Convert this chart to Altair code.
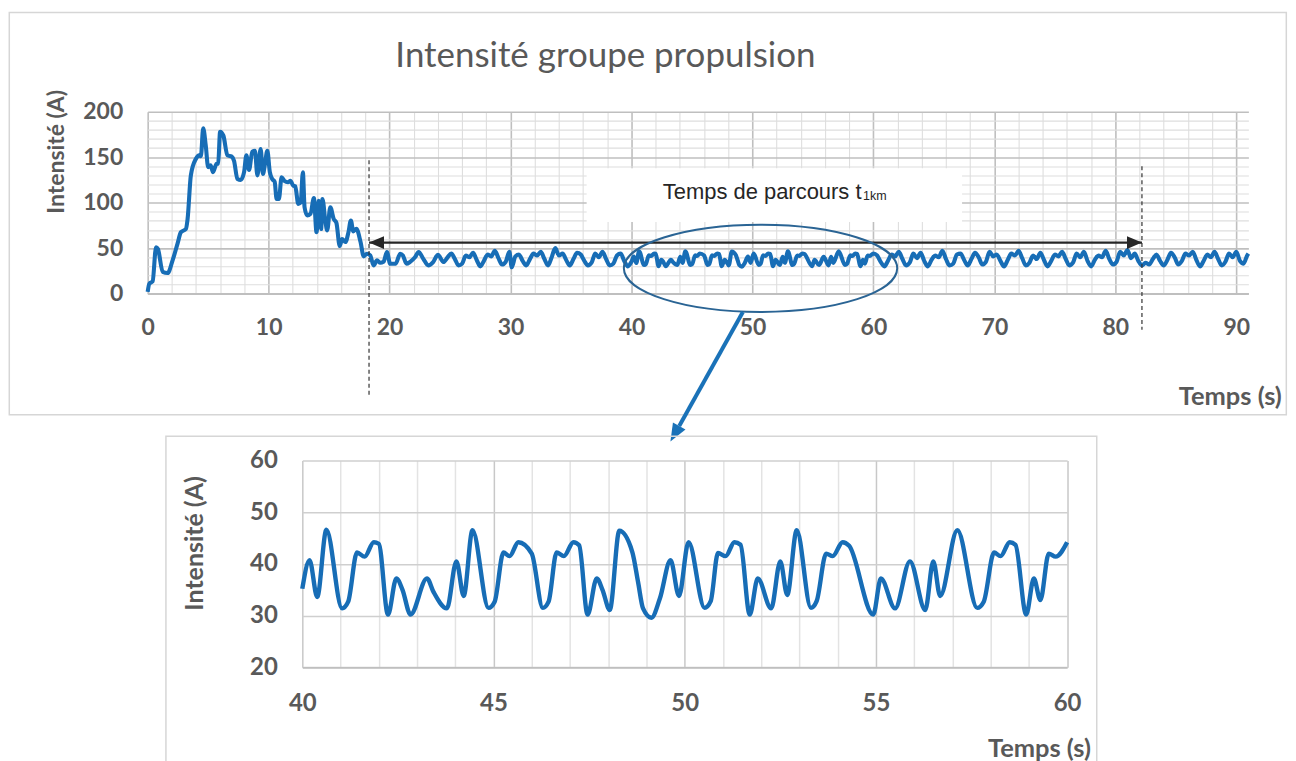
import altair as alt
import pandas as pd

# ---------------- data ----------------
temps = [
    0.0, 0.14, 0.41, 0.69, 0.85, 1.24, 1.65, 2.06, 2.47, 2.75, 3.16, 3.3, 3.57, 3.98, 4.26, 4.4,
    4.59, 4.8, 5.0, 5.2, 5.4, 5.69, 5.83, 5.99, 6.26, 6.59, 6.95, 7.14, 7.42, 7.69, 7.97, 8.16,
    8.38, 8.65, 8.87, 9.07, 9.34, 9.53, 9.7, 9.89, 10.1, 10.3, 10.5, 10.66, 10.85, 11.07, 11.3,
    11.6, 11.8, 12.03, 12.2, 12.45, 12.65, 12.83, 12.97, 13.19, 13.46, 13.74, 13.96, 14.15, 14.34,
    14.45, 14.7, 14.84, 15.1, 15.38, 15.6, 15.88, 16.07, 16.35, 16.6, 16.8, 17.0, 17.25, 17.6,
    17.86, 18.13, 18.4, 18.68, 18.96, 19.23, 19.5, 19.78, 20.05, 20.5, 20.88, 21.1, 21.4, 21.7,
    22.1, 22.4, 22.8, 23.2, 23.6, 24.0, 24.45, 24.8, 25.1, 25.4, 25.7, 26.0, 26.3, 26.6, 26.9,
    27.2, 27.5, 27.8, 28.1, 28.4, 28.7, 29.0, 29.3, 29.6, 29.9, 30.1, 30.4, 30.7, 31.0, 31.3,
    31.6, 31.9, 32.2, 32.5, 32.8, 33.1, 33.4, 33.7, 34.0, 34.3, 34.6, 34.9, 35.2, 35.5, 35.8,
    36.1, 36.4, 36.7, 37.0, 37.3, 37.6, 37.9, 38.2, 38.5, 38.8, 39.1, 39.4, 39.7,
    40.0, 40.19, 40.39, 40.63, 41.04, 41.2, 41.43, 41.63, 41.87, 42.0, 42.24, 42.46, 42.62,
    42.83, 43.26, 43.43, 43.78, 44.03, 44.22, 44.45, 44.87, 45.03, 45.26, 45.42, 45.65, 46.0,
    46.29, 46.44, 46.65, 46.84, 47.09, 47.24, 47.46, 47.7, 47.85, 48.04, 48.29, 48.63, 48.78,
    48.91, 49.13, 49.35, 49.63, 49.85, 50.1, 50.52, 50.68, 50.87, 51.07, 51.3, 51.46, 51.7,
    51.91, 52.26, 52.5, 52.68, 52.93, 53.3, 53.45, 53.7, 53.87, 54.13, 54.3, 54.93, 55.13,
    55.5, 55.89, 56.29, 56.5, 56.68, 57.13, 57.65, 57.82, 58.09, 58.26, 58.5, 58.65, 58.93,
    59.13, 59.3, 59.52, 59.7, 60.0,
    60.3, 60.6, 60.9, 61.2, 61.5, 61.8, 62.1, 62.4, 62.7, 63.0, 63.3, 63.6, 63.9, 64.2, 64.5,
    64.8, 65.1, 65.4, 65.7, 66.0, 66.3, 66.6, 66.9, 67.2, 67.5, 67.8, 68.1, 68.4, 68.7, 69.0,
    69.3, 69.6, 69.9, 70.2, 70.5, 70.8, 71.1, 71.4, 71.7, 72.0, 72.3, 72.6, 72.9, 73.2, 73.5,
    73.8, 74.1, 74.4, 74.7, 75.0, 75.3, 75.6, 75.9, 76.2, 76.5, 76.8, 77.1, 77.4, 77.7, 78.0,
    78.3, 78.6, 78.9, 79.2, 79.5, 79.8, 80.1, 80.4, 80.7, 81.0, 81.3, 81.6, 81.9, 82.2, 82.5,
    82.8, 83.1, 83.4, 83.7, 84.0, 84.3, 84.6, 84.9, 85.2, 85.5, 85.8, 86.1, 86.4, 86.7, 87.0,
    87.3, 87.6, 87.9, 88.2, 88.5, 88.8, 89.1, 89.4, 89.7, 90.0, 90.3, 90.6, 90.9, 91.0,
]
intensite = [
    2, 11, 13.5, 51, 49, 24, 22.7, 36.6, 55, 67.6, 71, 82, 130, 148, 152, 151,
    181.7, 163, 139, 141, 133.5, 142.6, 143, 178, 173.7, 152, 150.6, 146, 126, 125, 133.5, 152,
    136, 156, 157, 130, 159, 131.6, 142.6, 157, 133.5, 126, 123, 104, 104, 128, 124,
    122.5, 124, 118.8, 118, 98.7, 100, 133.5, 95, 86, 87.8, 105, 67.6, 102, 71,
    104, 78.6, 69.5, 95, 82, 78, 52.3, 60, 56.7, 67.6, 80.4, 68.4, 71.3, 56.7,
    41, 43.9, 42, 31, 36.6, 34, 35, 45.7, 32.9, 33, 43.9, 42, 32.9, 35,
    40, 45.7, 38, 31, 34.7, 42.8, 34.7, 40, 44, 38, 31, 33, 42, 40, 45,
    37, 30, 36, 43, 41, 47, 39, 32, 35, 46, 29, 41, 43, 36, 31,
    38, 44, 42, 46, 38, 31, 40, 50, 42, 44, 37, 31, 38, 45, 43,
    36, 31, 34, 44, 40, 46, 38, 31, 33, 42, 44, 36, 30,
    35.2, 40.7, 33.6, 46.6, 31.4, 32.7, 42.2, 41.4, 44.2, 43.9, 30.2, 37.2, 35.0,
    30.2, 37.2, 34.6, 31.4, 40.5, 33.8, 46.5, 31.5, 32.7, 42.2, 41.5, 44.2, 42.0,
    31.5, 32.7, 42.2, 41.5, 44.2, 43.6, 30.2, 37.2, 35.0, 31.1, 46.4, 42.3, 36.5,
    31.4, 29.6, 33.3, 40.7, 33.8, 44.2, 31.5, 32.8, 42.1, 41.5, 44.2, 43.7, 30.2,
    37.2, 31.4, 40.5, 34.0, 46.5, 31.5, 32.8, 42.0, 41.5, 44.2, 43.5, 30.2, 37.2,
    31.4, 40.5, 31.1, 40.5, 33.8, 46.5, 31.5, 32.7, 42.2, 41.5, 44.2, 43.7, 30.2,
    37.2, 33.0, 42.0, 41.4, 44.2,
    42, 35, 30, 36, 43, 41, 46, 38, 31, 34, 44, 39, 45, 36, 30,
    37, 42, 40, 47, 38, 31, 33, 43, 44, 37, 31, 38, 45, 40, 32,
    35, 46, 41, 43, 36, 30, 37, 44, 42, 47, 39, 31, 34, 42, 38,
    45, 37, 30, 36, 43, 41, 46, 38, 31, 34, 44, 40, 46, 36, 30,
    37, 42, 40, 47, 38, 32, 35, 46, 42, 48, 39, 44, 36, 31, 34,
    32, 38, 43, 36, 31, 37, 45, 40, 32, 36, 44, 42, 46, 37, 30,
    36, 43, 40, 46, 38, 31, 35, 44, 40, 46, 36, 33, 42, 44,
]

t_debut = 18.3     # start of the 1 km run (dashed line)
t_fin = 82.2       # end of the 1 km run (dashed line)

top_x_ticks = list(range(0, 91, 2))
top_y_ticks = list(range(0, 201, 10))
bot_x_ticks = list(range(40, 61, 1))
bot_y_ticks = [20, 30, 40, 50, 60]

titre = "Intensité groupe propulsion"
label_box = "Temps de parcours t"
label_sub = "1km"

df = pd.DataFrame({"t": temps, "I": intensite})

# ---------------- styles ----------------
FONT = "Lato"
GREY = "#595959"
BLUE = "#176db6"
MAJ = "#bfbfbf"
MIN = "#dedede"
W1, H1 = 1103.3, 182.4
W2, H2 = 766.6, 207.4
one = alt.Data(values=[{"k": 1}])


def cond(test, a, b):
    return {"condition": {"test": test, "value": a}, "value": b}


# ---------------- top chart ----------------
x_top = alt.X(
    "t:Q",
    scale=alt.Scale(domain=[0, 91], nice=False, zero=False),
    axis=alt.Axis(
        values=top_x_ticks, tickCount=500, format="d", grid=True, ticks=False,
        gridColor=cond("datum.value % 10 === 0", MAJ, MIN),
        gridWidth=cond("datum.value % 10 === 0", 1.6, 1.1),
        labelExpr="datum.value % 10 === 0 ? datum.label : ''",
        labelOverlap=False, labelFlush=False, labelBound=False,
        labelFont=FONT, labelFontSize=23, labelFontWeight="bold", labelColor=GREY,
        labelPadding=23,
        domain=True, domainColor=MAJ, domainWidth=1.6,
        title="Temps (s)", titleFont=FONT, titleFontSize=25.5, titleFontWeight="bold",
        titleColor=GREY, titleX=1136.3, titleY=111.3, titleAlign="right",
        titleBaseline="alphabetic",
    ),
)
y_top = alt.Y(
    "I:Q",
    scale=alt.Scale(domain=[0, 200], nice=False, zero=False),
    axis=alt.Axis(
        values=top_y_ticks, tickCount=500, format="d", grid=True, ticks=False,
        gridColor=cond("datum.value % 50 === 0", MAJ, MIN),
        gridWidth=cond("datum.value % 50 === 0", 1.6, 1.1),
        labelExpr="datum.value % 50 === 0 ? datum.label : ''",
        labelOverlap=False, labelFlush=False, labelBound=False,
        labelFont=FONT, labelFontSize=23, labelFontWeight="bold", labelColor=GREY,
        labelPadding=25, domain=False,
        title="Intensité (A)", titleFont=FONT, titleFontSize=23, titleFontWeight="bold",
        titleColor=GREY, titleX=-91.7, titleY=39.7, titleAlign="center",
        titleBaseline="middle", titleAngle=270,
    ),
)

frame_top = alt.Chart(one).mark_rect(fillOpacity=0, stroke="#d6d6d6", strokeWidth=1.5).encode(
    x=alt.value(-138.7), x2=alt.value(1141.3), y=alt.value(-99.3), y2=alt.value(303.7)
)
line_top = alt.Chart(df).mark_line(interpolate="monotone", color=BLUE, strokeWidth=4.1).encode(
    x=x_top, y=y_top
)
box = alt.Chart(one).mark_rect(fill="white").encode(
    x=alt.value(440), x2=alt.value(816.3), y=alt.value(56.7), y2=alt.value(110.7)
)
box_text = alt.Chart(one).mark_text(
    align="right", baseline="alphabetic", font="Liberation Sans", fontSize=22, color="#262626"
).encode(x=alt.value(715.5), y=alt.value(88), text=alt.value(label_box))
box_sub = alt.Chart(one).mark_text(
    align="left", baseline="alphabetic", font="Liberation Sans", fontSize=12.5, color="#262626"
).encode(x=alt.value(717), y=alt.value(89), text=alt.value(label_sub))

dash1 = alt.Chart(pd.DataFrame({"t": [t_debut]})).mark_rule(
    color="#333333", strokeWidth=1.2, strokeDash=[4, 3]
).encode(x="t:Q", y=alt.value(48.7), y2=alt.value(285.7))
dash2 = alt.Chart(pd.DataFrame({"t": [t_fin]})).mark_rule(
    color="#333333", strokeWidth=1.2, strokeDash=[4, 3]
).encode(x="t:Q", y=alt.value(54.7), y2=alt.value(218.7))

span = alt.Chart(pd.DataFrame({"t": [t_debut], "t2": [t_fin]})).mark_rule(
    color="#262626", strokeWidth=2.2
).encode(x="t:Q", x2="t2:Q", y=alt.value(131.2))
head_l = alt.Chart(pd.DataFrame({"t": [t_debut]})).mark_point(
    shape="M0,0L2,-0.85L2,0.85Z", filled=True, fill="#262626", size=225, opacity=1, strokeWidth=0
).encode(x="t:Q", y=alt.value(131.2))
head_r = alt.Chart(pd.DataFrame({"t": [t_fin]})).mark_point(
    shape="M0,0L-2,-0.85L-2,0.85Z", filled=True, fill="#262626", size=225, opacity=1, strokeWidth=0
).encode(x="t:Q", y=alt.value(131.2))

ELLIPSE = ("M-1,0C-1,-0.176,-0.552,-0.319,0,-0.319C0.552,-0.319,1,-0.176,1,0"
           "C1,0.176,0.552,0.319,0,0.319C-0.552,0.319,-1,0.176,-1,0Z")
ellipse = alt.Chart(one).mark_point(
    shape=ELLIPSE, filled=False, stroke="#2a6494", strokeWidth=2, size=274 ** 2, opacity=1
).encode(x=alt.value(614.3), y=alt.value(157))

zoom_shaft = alt.Chart(one).mark_rule(color="#1a72b8", strokeWidth=4).encode(
    x=alt.value(596.6), y=alt.value(200.7), x2=alt.value(532.8), y2=alt.value(315)
)
zoom_head = alt.Chart(one).mark_point(
    shape="M0,0L-0.8,2L0.8,2Z", filled=True, fill="#1a72b8", size=324, opacity=1,
    strokeWidth=0, angle=209.2
).encode(x=alt.value(524), y=alt.value(330.7))

title_mark = alt.Chart(one).mark_text(
    align="center", baseline="alphabetic", font=FONT, fontSize=35, color=GREY
).encode(x=alt.value(458.8), y=alt.value(-44.3), text=alt.value(titre))

top = alt.layer(
    line_top, frame_top, box, box_text, box_sub, dash1, dash2, span, head_l, head_r,
    ellipse, zoom_shaft, zoom_head, title_mark,
).properties(width=W1, height=H1)

# ---------------- bottom chart ----------------
x_bot = alt.X(
    "t:Q",
    scale=alt.Scale(domain=[40, 60], nice=False, zero=False),
    axis=alt.Axis(
        values=bot_x_ticks, tickCount=500, format="d", grid=True, ticks=False,
        gridColor=cond("datum.value % 5 === 0", "#c8c8c8", "#e3e3e3"),
        gridWidth=1.5,
        labelExpr="datum.value % 5 === 0 ? datum.label : ''",
        labelOverlap=False, labelFlush=False, labelBound=False,
        labelFont=FONT, labelFontSize=24, labelFontWeight="bold", labelColor=GREY,
        labelPadding=24,
        domain=True, domainColor=MAJ, domainWidth=1.6,
        title="Temps (s)", titleFont=FONT, titleFontSize=25.5, titleFontWeight="bold",
        titleColor=GREY, titleX=790, titleY=89.3, titleAlign="right",
        titleBaseline="alphabetic",
    ),
)
y_bot = alt.Y(
    "I:Q",
    scale=alt.Scale(domain=[20, 60], nice=False, zero=False),
    axis=alt.Axis(
        values=bot_y_ticks, tickCount=500, format="d", grid=True, ticks=False,
        gridColor="#cfcfcf", gridWidth=1.5,
        labelOverlap=False, labelFlush=False, labelBound=False,
        labelFont=FONT, labelFontSize=24, labelFontWeight="bold", labelColor=GREY,
        labelPadding=25, domain=False,
        title="Intensité (A)", titleFont=FONT, titleFontSize=25, titleFontWeight="bold",
        titleColor=GREY, titleX=-107.7, titleY=82.7, titleAlign="center",
        titleBaseline="middle", titleAngle=270,
    ),
)
line_bot = alt.Chart(df).transform_filter(
    "datum.t >= 40 && datum.t <= 60"
).mark_line(interpolate="monotone", color=BLUE, strokeWidth=4.4).encode(x=x_bot, y=y_bot)
frame_bot = alt.Chart(one).mark_rect(fillOpacity=0, stroke="#d6d6d6", strokeWidth=1.5).encode(
    x=alt.value(-136.7), x2=alt.value(796.3), y=alt.value(-24.3), y2=alt.value(330)
)
bottom = alt.layer(line_bot, frame_bot).properties(width=W2, height=H2)

spacer = alt.Chart(one).mark_point(opacity=0).encode(
    x=alt.value(0), y=alt.value(0)
).properties(width=155, height=H2)

chart = alt.vconcat(
    top,
    alt.hconcat(spacer, bottom, spacing=0, bounds="flush"),
    spacing=349 - H1,
    bounds="flush",
).properties(
    padding={"left": 0, "top": 2, "right": 0, "bottom": 0}
).configure_view(stroke=None)

chart.save("out.html", embed_options={"renderer": "svg", "actions": False})
